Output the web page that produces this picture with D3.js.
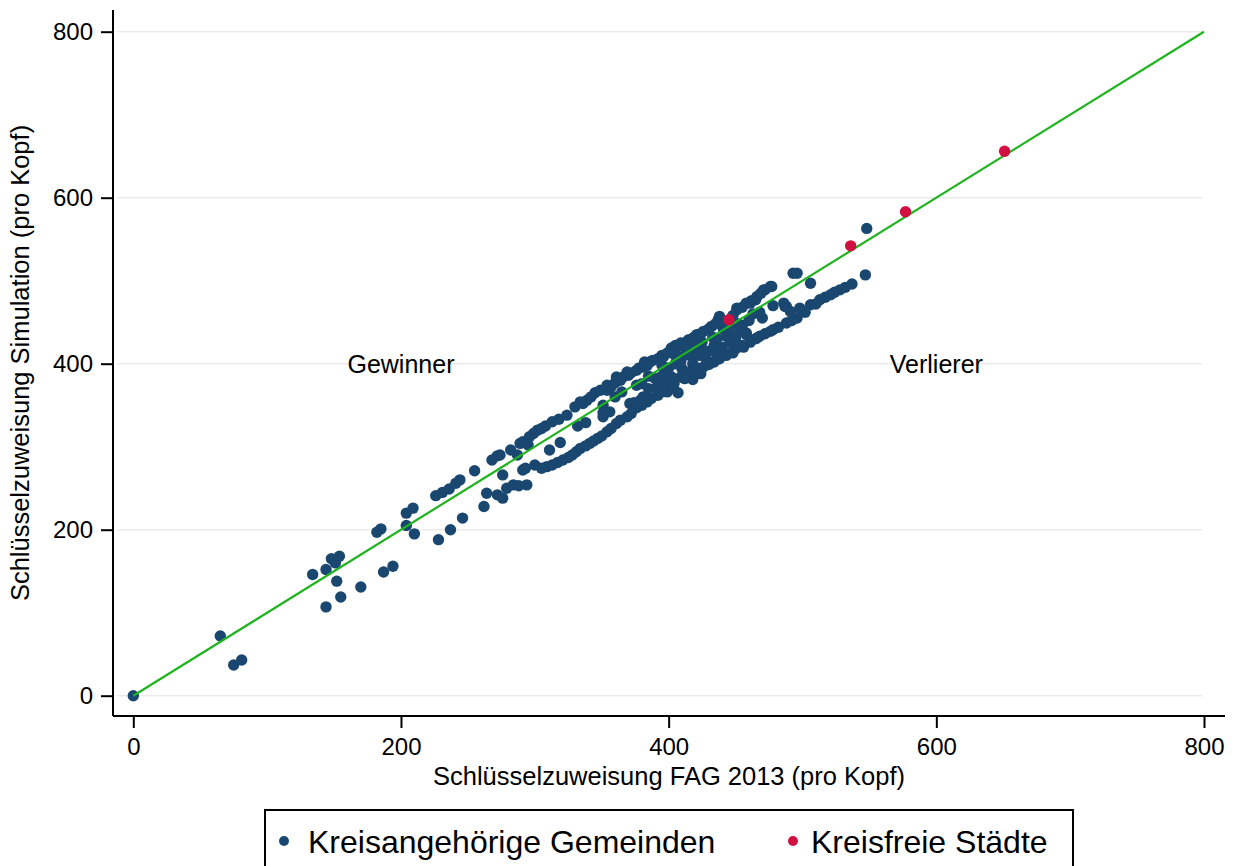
<!DOCTYPE html>
<html><head><meta charset="utf-8">
<script src="https://cdn.jsdelivr.net/npm/d3@7"></script>
<style>body{margin:0;background:#fff}svg{display:block}text{font-family:"Liberation Sans",Arial,sans-serif;fill:#000}</style>
</head><body><svg id="c" width="1236" height="866"></svg>
<script>
const xTicks=[0,200,400,600,800];
const yTicks=[0,200,400,600,800];
const xTitle="Schlüsselzuweisung FAG 2013 (pro Kopf)";
const yTitle="Schlüsselzuweisung Simulation (pro Kopf)";
const seriesNames=["Kreisangehörige Gemeinden","Kreisfreie Städte"];
const regionLabels=[{t:"Gewinner",x:200,y:400},{t:"Verlierer",x:600,y:400}];
const gemeinden=[
[0,0],[65,72],[75,37],[81,43],
[134,146],[144,152],[148,165],[151,160],[154,168],[152,138],[155,119],[144,107],[170,131],[182,197],[185,201],[187,149],[194,156],[204,220],[209,226],[204,205],[210,195],
[226,241],[231,245],[236,249],[241,256],[244,260],[246,214],[237,200],[228,188],[255,271],[262,228],[264,244],[268,284],[272,289],[272,242],[276,238],[276,266],[282,296],[284,254],[288,253],[291,306],[291,272],[287,290],[294,254],[295,302],[279,250],
[274,290],[289,304],[296,312],[302,320],[308,325],[313,330],[330,348],[334,354],[339,356],[345,365],[349,368],[354,368],[360,377],[366,384],[372,389],[376,374],[381,396],[386,402],[395,410],[405,422],
[311,296],[319,305],[332,325],[338,329],[351,336],[351,350],[356,342],
[293,274],[300,278],[309,276],[313,278],[321,284],[328,290],[334,298],[341,304],[347,310],[354,318],[361,328],[369,336],[376,347],[384,354],[392,362],[399,366],[403,371],[407,365],[371,352],[379,356],[394,377],[402,384],[397,392],
[354,374],[361,384],[369,390],[376,392],[382,402],[388,404],[396,408],[402,419],[409,425],[415,429],[421,435],[426,439],[432,445],[437,453],[451,465],[458,473],[466,481],[472,489],[477,493],[493,509],
[394,384],[402,384],[409,402],[417,410],[426,416],[434,422],[443,433],[453,439],[458,435],[470,455],[487,469],[491,463],[486,473],
[351,341],[374,353],[381,360],[391,371],[399,378],[409,384],[416,390],[426,396],[434,402],[443,410],[451,419],[461,426],[468,433],[478,441],[488,449],[496,455],
[548,563],[496,509],[506,497],[547,507],[537,496],[528,489],[521,483],[513,477],[506,471],[498,467],[488,469],[476,493],[471,489],[465,477],[461,473],[451,467],[438,457],
[476,439],[466,431],[456,420],[448,413],[458,437],
[385,370],[390,382],[400,395],[405,400],[410,394],[412,410],[418,400],[420,420],[425,426],[430,415],[436,430],[440,420],[446,426],[450,430],[455,446],[460,452],[463,460],[412,390],[420,396],[428,406],[436,412],[441,441],[446,446],[418,381],[424,388],
[299,316],[305,322],[318,333],[324,338],[336,352],[342,360],[357,372],[364,380],[370,386],[378,395],[384,398],[392,406],[399,413],[406,420],[413,426],[419,432],[424,436],[430,442],[435,448],[442,450],[448,458],[455,468],[462,476],[469,485],
[305,274],[317,281],[325,287],[331,294],[338,301],[344,307],[350,313],[357,322],[364,332],[372,340],[380,350],[387,358],[395,366],[404,376],[412,382],[420,388],[430,399],[438,406],[447,414],[455,422],[465,430],[472,436],[482,444],[492,452],[502,462],[510,472],[517,480],[524,486],[532,492],
[360,360],[365,366],[380,376],[385,385],[395,398],[405,410],[413,418],[423,410],[433,432],[445,438],[452,448],[468,462],[478,470]
];
const staedte=[[445,453],[536,542],[577,583],[651,656]];
const diagonal=[[0,0],[800,800]];

const svg=d3.select("#c");
const x=d3.scaleLinear().domain([0,800]).range([133.3,1204]);
const y=d3.scaleLinear().domain([0,800]).range([695.7,31.7]);
const navy="#1a476f", red="#cf1040", green="#1fb41f";
const FF="Liberation Sans, Arial, sans-serif";

// gridlines
svg.append("g").selectAll("line").data(yTicks).join("line")
 .attr("x1",117).attr("x2",1202).attr("y1",d=>y(d)).attr("y2",d=>y(d))
 .attr("stroke","#ebebeb").attr("stroke-width",1.6);

// axes
const yAxis=d3.axisLeft(y).tickValues(yTicks).tickSize(12).tickPadding(8).tickFormat(d3.format("d"));
const gy=svg.append("g").attr("transform","translate(113,0)").call(yAxis);
gy.select(".domain").remove();
gy.append("line").attr("x1",0).attr("x2",0).attr("y1",10).attr("y2",716).attr("stroke","#000").attr("stroke-width",2);
gy.selectAll(".tick line").attr("stroke-width",2);
gy.selectAll(".tick text").attr("font-size",24).attr("font-family",FF).attr("fill","#000");

const xAxis=d3.axisBottom(x).tickValues(xTicks).tickSize(12).tickPadding(10).tickFormat(d3.format("d"));
const gx=svg.append("g").attr("transform","translate(0,716)").call(xAxis);
gx.select(".domain").remove();
gx.append("line").attr("x1",113).attr("x2",1225).attr("y1",0).attr("y2",0).attr("stroke","#000").attr("stroke-width",2);
gx.selectAll(".tick line").attr("stroke-width",2);
gx.selectAll(".tick text").attr("font-size",24).attr("font-family",FF).attr("fill","#000");

// titles
svg.append("text").attr("x",669).attr("y",785).attr("text-anchor","middle").attr("font-size",25.5).text(xTitle);
svg.append("text").attr("transform","translate(29,363) rotate(-90)").attr("text-anchor","middle").attr("font-size",25.5).text(yTitle);

// region labels
svg.append("g").selectAll("text").data(regionLabels).join("text")
 .attr("x",d=>x(d.x)).attr("y",d=>y(d.y)+9).attr("text-anchor","middle").attr("font-size",25).text(d=>d.t);

// points
svg.append("g").selectAll("circle").data(gemeinden).join("circle")
 .attr("cx",d=>x(d[0])).attr("cy",d=>y(d[1])).attr("r",5.7).attr("fill",navy);

svg.append("path").datum(diagonal).attr("d",d3.line().x(d=>x(d[0])).y(d=>y(d[1])))
 .attr("stroke",green).attr("stroke-width",2.2).attr("fill","none");

svg.append("g").selectAll("circle").data(staedte).join("circle")
 .attr("cx",d=>x(d[0])).attr("cy",d=>y(d[1])).attr("r",5.7).attr("fill",red);

// legend
const lg=svg.append("g");
lg.append("rect").attr("x",265).attr("y",810).attr("width",808).attr("height",70).attr("fill","#fff").attr("stroke","#000").attr("stroke-width",2);
const items=[{n:seriesNames[0],c:navy,cx:284,tx:308},{n:seriesNames[1],c:red,cx:793,tx:811}];
items.forEach(it=>{
 lg.append("circle").attr("cx",it.cx).attr("cy",841).attr("r",5).attr("fill",it.c);
 lg.append("text").attr("x",it.tx).attr("y",853).attr("font-size",32).text(it.n);
});
</script></body></html>
